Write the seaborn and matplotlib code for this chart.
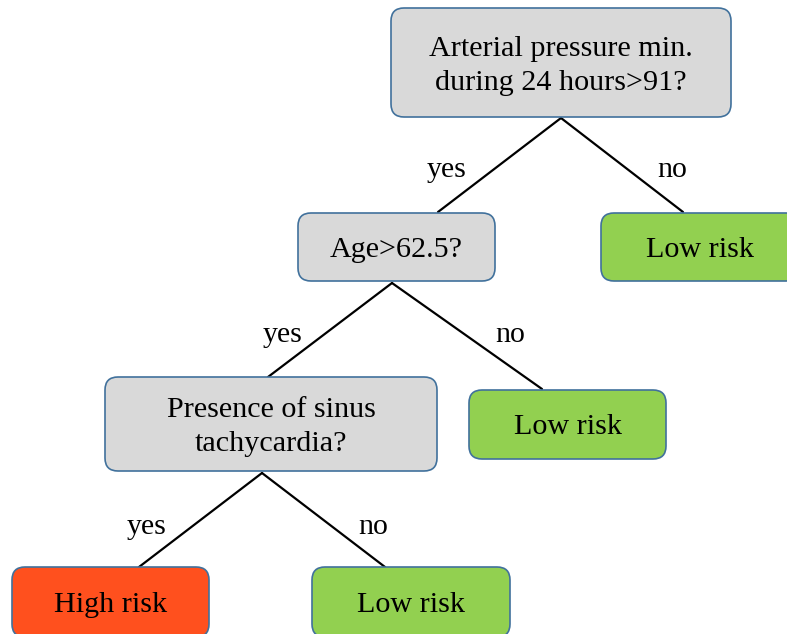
import matplotlib
matplotlib.use("Agg")
import matplotlib.pyplot as plt
from matplotlib.patches import FancyBboxPatch
import pandas as pd
import seaborn as sns

# tree nodes
node_labels = ["Arterial pressure min.\nduring 24 hours>91?", "Age>62.5?", "Low risk",
               "Presence of sinus\ntachycardia?", "Low risk", "High risk", "Low risk"]
node_kind = ["question", "question", "low", "question", "low", "high", "low"]

# edges: parent -> child, with answer
edge_parent = [0, 0, 1, 1, 3, 3]
edge_child = [1, 2, 3, 4, 5, 6]
edge_answer = ["yes", "no", "yes", "no", "yes", "no"]

# layout (pixels): box left, top, width, height
box_x = [391, 298, 601, 105, 469, 12, 312]
box_y = [8, 213, 213, 377, 390, 567, 567]
box_w = [340, 197, 198, 332, 197, 197, 198]
box_h = [109, 68, 68, 94, 69, 70, 70]
# where edges leave the parent / reach the child
edge_start = [(561, 118), (561, 118), (392, 283), (392, 283), (262, 473), (262, 473)]
edge_end = [(438, 212), (683, 212), (268, 377), (542, 389), (139, 567), (385, 567)]
label_pos = [(447, 170), (672, 170), (283, 335), (510, 335), (147, 527), (373, 527)]

fill = {"question": "#D9D9D9", "low": "#92D050", "high": "#FF501E"}

sns.set_style("white")
plt.rcParams["font.family"] = ["Liberation Serif", "DejaVu Serif"]
plt.rcParams["text.color"] = "black"

fig = plt.figure(figsize=(7.87, 6.34), dpi=100)
ax = fig.add_axes([0, 0, 1, 1])

rows = []
for i in range(len(edge_parent)):
    rows.append({"x": edge_start[i][0], "y": edge_start[i][1], "edge": i})
    rows.append({"x": edge_end[i][0], "y": edge_end[i][1], "edge": i})
edges = pd.DataFrame(rows)
sns.lineplot(data=edges, x="x", y="y", units="edge", estimator=None,
             color="black", linewidth=1.6, sort=False, ax=ax, zorder=1)

for i, ans in enumerate(edge_answer):
    ax.text(label_pos[i][0], label_pos[i][1], ans, fontsize=21.5,
            ha="center", va="center")

for i, lab in enumerate(node_labels):
    box = FancyBboxPatch((box_x[i], box_y[i]), box_w[i], box_h[i],
                         boxstyle="round,pad=0,rounding_size=13",
                         facecolor=fill[node_kind[i]], edgecolor="#41719C",
                         linewidth=1.2, zorder=2)
    ax.add_patch(box)
    ax.text(box_x[i] + box_w[i] / 2, box_y[i] + box_h[i] / 2 + 3, lab,
            fontsize=21.7, ha="center", va="center", linespacing=1.4, zorder=3)

ax.set_xlim(0, 787)
ax.set_ylim(634, 0)
ax.set_axis_off()

fig.savefig("out.png", dpi=100)
